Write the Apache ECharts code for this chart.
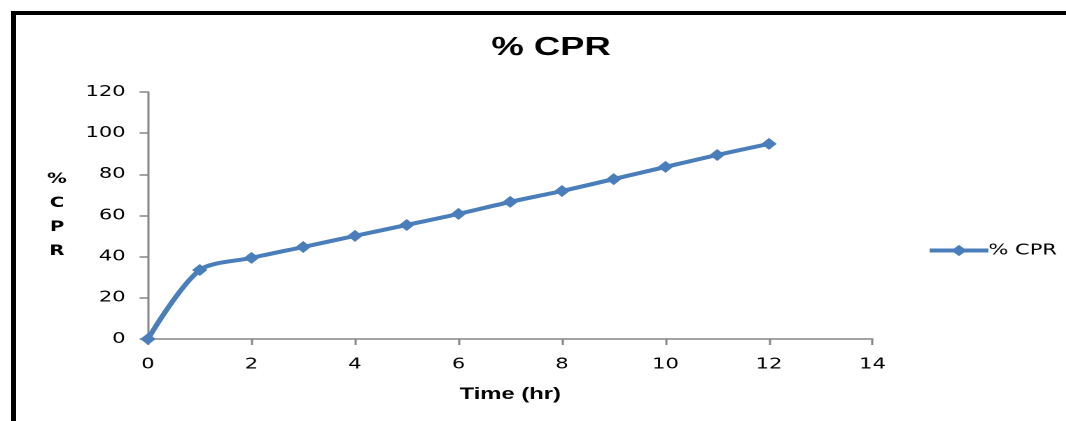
<!DOCTYPE html>
<html><head><meta charset="utf-8">
<script src="https://cdn.jsdelivr.net/npm/echarts@6/dist/echarts.min.js"></script>
<style>
html,body{margin:0;padding:0;background:#fff;overflow:hidden;width:1066px;height:421px;}
#frame{position:absolute;left:11px;top:11px;width:1080px;height:430px;border-left:5px solid #000;border-top:4px solid #000;box-sizing:border-box;}
#c{position:absolute;left:0;top:0;width:761px;height:421px;transform:scaleX(1.4);transform-origin:0 0;}
</style></head>
<body>
<div id="frame"></div>
<div id="c"></div>
<script>
var times = [0,1,2,3,4,5,6,7,8,9,10,11,12];
var cpr = [0,33.5,39.4,44.7,50.1,55.4,60.8,66.6,71.9,77.7,83.6,89.4,94.8];
var seriesName = '% CPR';
var xTicks = {min:0,max:14,interval:2};
var yTicks = {min:0,max:120,interval:20};

var chart = echarts.init(document.getElementById('c'), null, {devicePixelRatio:2});
var data = times.map(function(t,i){return [t,cpr[i]];});
var axisGrey = '#868686';
chart.setOption({
  animation:false,
  title:{text:'% CPR',left:346,top:30,
    textStyle:{fontFamily:'Liberation Sans',fontWeight:'bold',fontSize:26,color:'#000'}},
  grid:{left:105.7,top:92,right:137.8,bottom:82,containLabel:false},
  legend:{left:657,top:238,itemWidth:42,itemHeight:14,padding:5,
    lineStyle:{width:4},
    textStyle:{fontFamily:'DejaVu Sans',fontSize:15,color:'#000',padding:[0,0,0,-5]},data:[seriesName]},
  xAxis:{type:'value',min:xTicks.min,max:xTicks.max,interval:xTicks.interval,
    name:'Time (hr)',nameLocation:'middle',nameGap:47,
    nameTextStyle:{fontFamily:'Liberation Sans',fontWeight:'bold',fontSize:17,color:'#000',verticalAlign:'top'},
    axisLine:{show:true,lineStyle:{color:axisGrey,width:1.5}},
    axisTick:{show:true,length:6,lineStyle:{color:axisGrey,width:1.5}},
    axisLabel:{margin:18,fontFamily:'DejaVu Sans',fontSize:15,color:'#000'},
    splitLine:{show:false}},
  yAxis:{type:'value',min:yTicks.min,max:yTicks.max,interval:yTicks.interval,
    name:'%\nC\nP\nR',nameLocation:'middle',nameRotate:0,nameGap:65,
    nameTextStyle:{fontFamily:'DejaVu Sans',fontWeight:'bold',fontSize:14,lineHeight:24,color:'#000',align:'center'},
    axisLine:{show:true,lineStyle:{color:axisGrey,width:1.5}},
    axisTick:{show:true,length:6,lineStyle:{color:axisGrey,width:1.5}},
    axisLabel:{margin:16,fontFamily:'DejaVu Sans',fontSize:15,color:'#000'},
    splitLine:{show:false}},
  series:[{name:seriesName,type:'line',data:data,smooth:0.3,
    symbol:'diamond',symbolSize:[11,12],
    lineStyle:{color:'#4a7ebb',width:4},
    itemStyle:{color:'#4a7ebb'}}]
});
</script>
</body></html>
